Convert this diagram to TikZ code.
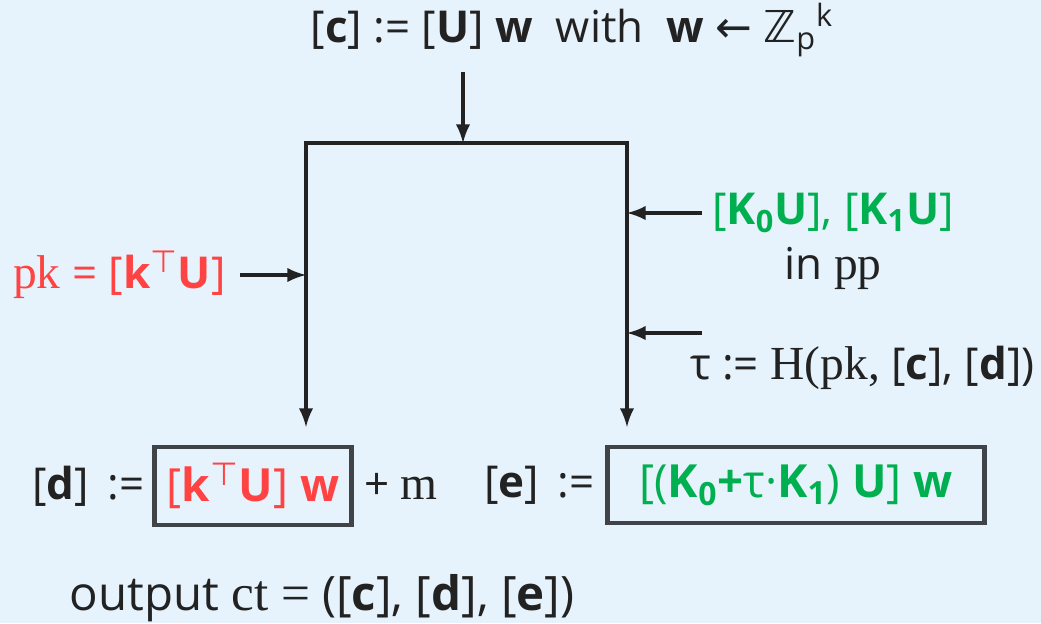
\documentclass[tikz,border=0pt]{standalone}
\usepackage{fontspec}
\setmainfont{Open Sans}
\newfontfamily\serf{Liberation Serif}[Scale=1.08]
\newfontfamily\symf{DejaVu Sans}
\usetikzlibrary{arrows, positioning}
\definecolor{bgblue}{HTML}{E6F3FC}
\definecolor{pkred}{HTML}{FF4343}
\definecolor{ppgreen}{HTML}{00B050}
\definecolor{boxgray}{HTML}{404448}
\definecolor{inkgray}{HTML}{222222}
\tikzstyle{txt} = [inner sep=0pt, text=inkgray, font=\fontsize{25}{29}\selectfont]
\tikzstyle{cbox} = [rectangle, draw=boxgray, line width=2.8pt, inner sep=0pt, font=\fontsize{26}{30}\selectfont]
\tikzstyle{arrow} = [line width=2.6pt, draw=inkgray, ->, >=latex]
\tikzstyle{wire} = [line width=2.6pt, draw=inkgray]
\newcommand{\tp}{\textsuperscript{\symf ⊤}}

\begin{document}
\begin{tikzpicture}[x=0.02cm, y=-0.02cm]
            \fill[bgblue] (0,0) rectangle (1041,623);
            \useasboundingbox (0,0) rectangle (1041,623);

            % Nodes
            \node (commit) [txt] at (572,30) {[\textbf{c}] := [\textbf{U}] \textbf{w}\ \ with\ \ \textbf{w} {\symf ←} {\symf ℤ}\textsubscript{p}\textsuperscript{k}};
            \coordinate (cin) at (463,72);
            \coordinate (split) at (463,143);
            \coordinate (lefttop) at (306,143);
            \coordinate (righttop) at (627,143);
            \coordinate (leftend) at (306,427);
            \coordinate (rightend) at (627,427);

            \node (pk) [txt, anchor=east, text=pkred] at (226,275) {{\serf pk} = [\textbf{k}\tp\textbf{U}]};
            \coordinate (pkin) at (240,275);
            \node (kk) [txt, text=ppgreen] at (833,213) {[\textbf{K\textsubscript{0}U}], [\textbf{K\textsubscript{1}U}]};
            \coordinate (kkin) at (702,213);
            \node (inpp) [txt, below=1.1cm of kk.center, anchor=center] {in {\serf pp}};
            \coordinate (tauin) at (702,333);
            \node (tau) [txt, anchor=east] at (1035,368) {τ := {\serf H(pk,} [\textbf{c}], [\textbf{d}])};

            \node (dbox) [cbox, minimum width=3.94cm, minimum height=1.56cm, text=pkred] at (253,486) {[\textbf{k}\tp\textbf{U}] \textbf{w}};
            \node (dlabel) [txt, left=0.14cm of dbox] {[\textbf{d}]\, :=};
            \node (plusm) [txt, right=0.2cm of dbox] {+ {\serf m}};
            \node (ebox) [cbox, minimum width=7.54cm, minimum height=1.52cm, text=ppgreen] at (796,485) {[(\textbf{K\textsubscript{0}+}τ·\textbf{K\textsubscript{1}}) \textbf{U}] \textbf{w}};
            \node (elabel) [txt, left=0.2cm of ebox] {[\textbf{e}]\, :=};

            \node (output) [txt, font=\fontsize{27}{30}\selectfont] at (322,598) {output {\serf ct =} ([\textbf{c}], [\textbf{d}], [\textbf{e}])};

            % Edges
            \draw [arrow] (cin) -- (split);
            \draw [wire, line cap=rect] (lefttop) -- (righttop);
            \draw [arrow] (lefttop) -- (leftend);
            \draw [arrow] (righttop) -- (rightend);
            \draw [arrow] (pkin) -- (pkin -| lefttop);
            \draw [arrow] (kkin) -- (kkin -| righttop);
            \draw [arrow] (tauin) -- (tauin -| righttop);
        \end{tikzpicture}
\end{document}
